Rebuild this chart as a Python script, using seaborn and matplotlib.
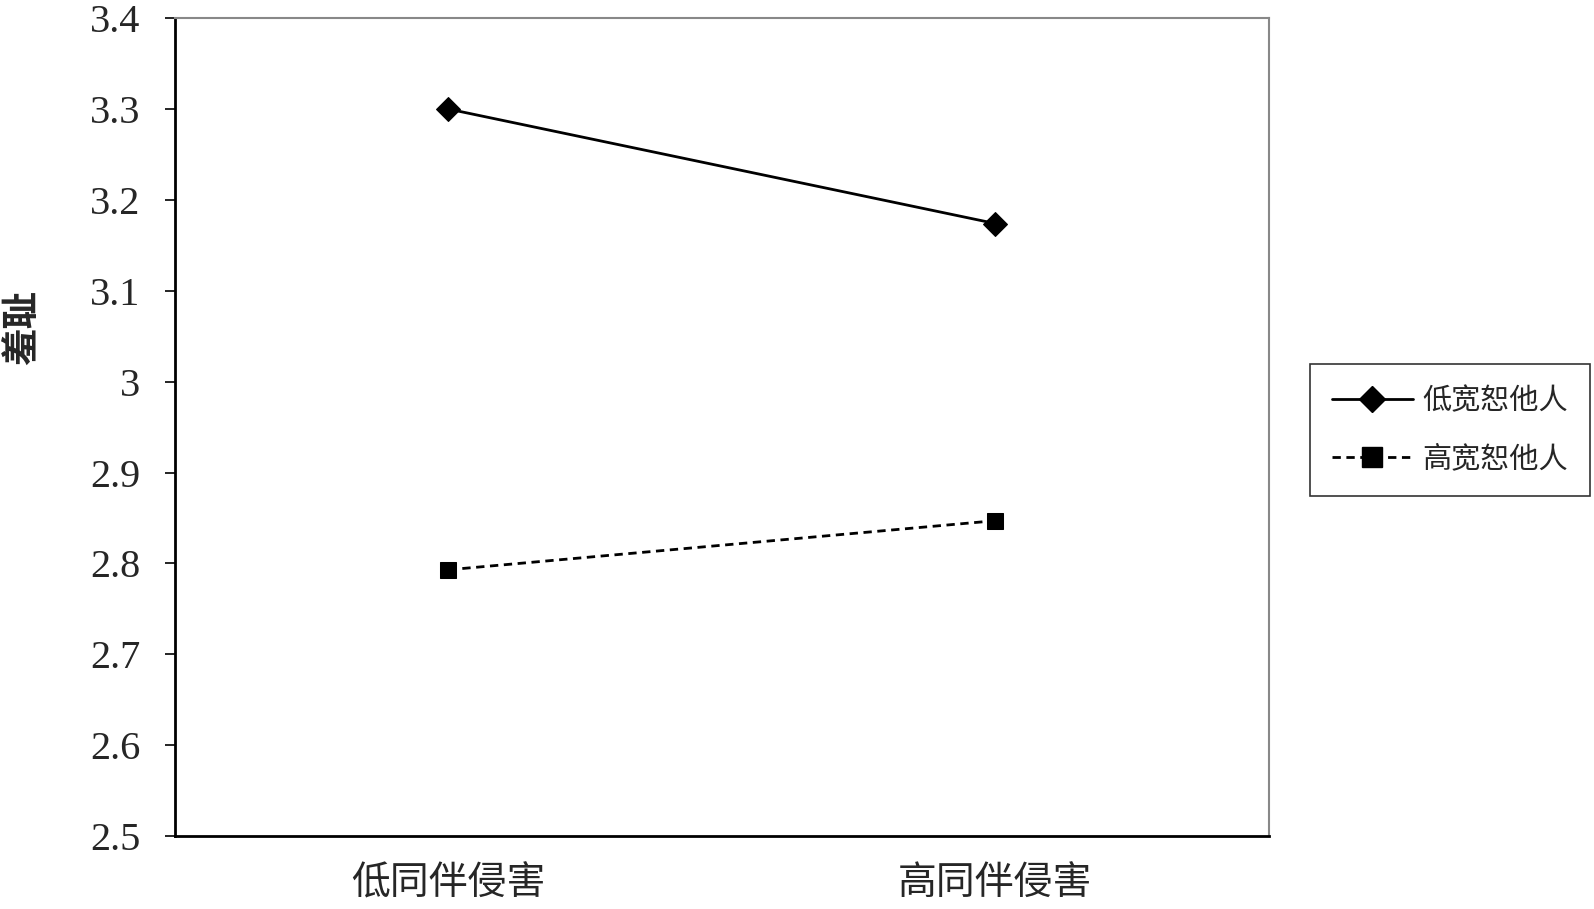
import pandas as pd
import numpy as np
import matplotlib.pyplot as plt
import seaborn as sns

# values
groups = ['低同伴侵害', '高同伴侵害']
series = ['低宽恕他人', '高宽恕他人']
low_forgive = [3.300, 3.174]
high_forgive = [2.793, 2.847]
y_ticks = [2.5, 2.6, 2.7, 2.8, 2.9, 3.0, 3.1, 3.2, 3.3, 3.4]
y_tick_labels = ['2.5', '2.6', '2.7', '2.8', '2.9', '3', '3.1', '3.2', '3.3', '3.4']

data = pd.DataFrame({
    'x': [0, 1, 0, 1],
    'y': low_forgive + high_forgive,
    'group': [series[0]] * 2 + [series[1]] * 2,
})

sns.set_style('white')
plt.rcParams['font.family'] = ['Liberation Serif', 'Noto Sans CJK SC', 'DejaVu Sans']
cjk = ['Noto Sans CJK SC', 'DejaVu Sans']

fig = plt.figure(figsize=(15.94, 9.09), dpi=100)
ax = fig.add_axes([0.1098, 0.0803, 0.6862, 0.8997])

sns.lineplot(data=data, x='x', y='y', hue='group', style='group',
             palette=['black', 'black'],
             markers={series[0]: 'D', series[1]: 's'},
             dashes={series[0]: '', series[1]: (3, 2)},
             markersize=12, linewidth=2, markeredgecolor='black',
             ax=ax, legend=False)

ax.set_xlim(-0.5, 1.5)
ax.set_ylim(2.5, 3.4)
ax.set_yticks(y_ticks)
ax.set_yticklabels(y_tick_labels, fontsize=29)
ax.set_xticks([0, 1])
ax.set_xticklabels(groups, fontsize=28, family=cjk)
ax.set_xticks([-0.5, 0.5, 1.5], minor=True)
ax.tick_params(axis='x', which='major', length=0, pad=20)
ax.tick_params(axis='x', which='minor', length=7, width=1.2, direction='out', color='black')
ax.tick_params(axis='y', length=7, width=1.2, direction='out', pad=18, color='black', left=True)
ax.set_xlabel('')
ax.set_ylabel('羞耻', fontsize=27, family=cjk, fontweight='bold')
ax.yaxis.set_label_coords(-0.122, 0.622)

for s in ['left', 'bottom']:
    ax.spines[s].set_color('black')
    ax.spines[s].set_linewidth(2)
for s in ['top', 'right']:
    ax.spines[s].set_color('#888888')
    ax.spines[s].set_linewidth(1.5)

handles = [
    plt.Line2D([], [], color='black', lw=2, marker='D', markersize=13),
    plt.Line2D([], [], color='black', lw=2, ls=(0, (3, 2)), marker='s', markersize=14),
]
leg = fig.legend(handles, series, loc='center left', bbox_to_anchor=(0.8125, 0.527),
                 frameon=True, fancybox=False, handlelength=2.8,
                 prop={'family': cjk, 'size': 21}, labelspacing=0.95,
                 borderpad=0.75, handletextpad=0.3)
leg.get_frame().set_edgecolor('black')
leg.get_frame().set_linewidth(1.2)

fig.savefig('out.png', dpi=100)
